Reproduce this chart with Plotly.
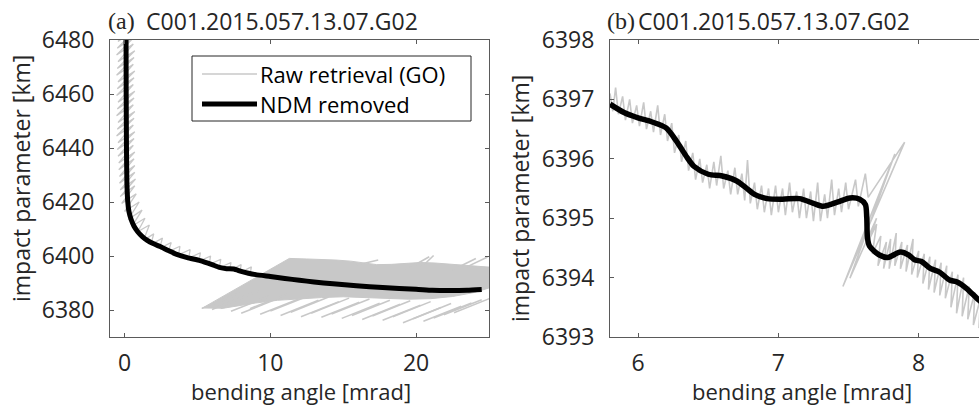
import plotly.graph_objects as go

W, H = 979, 407

# ---------------- data: panel (a) ----------------
ndm_a_x = [0.10, 0.11, 0.13, 0.16, 0.22, 0.30, 0.45, 0.65, 0.90, 1.20, 1.53, 2.00, 2.44, 3.00, 3.58,
           4.30, 5.18, 6.00, 6.50, 7.00, 7.50, 8.00, 8.50, 9.00, 10.0, 11.0, 12.0, 13.0, 14.3, 15.9,
           17.7, 20.0, 21.1, 22.3, 23.5, 24.5]
ndm_a_y = [6485, 6460, 6440, 6427, 6420, 6416.5, 6413.5, 6411, 6409, 6407.3, 6405.9, 6404.5, 6403.5, 6402, 6400.6,
           6399.4, 6398.3, 6396.8, 6395.8, 6395.3, 6395.2, 6394.3, 6393.6, 6393.1, 6392.4, 6391.7, 6391.0, 6390.4, 6389.7, 6389.0,
           6388.3, 6387.7, 6387.3, 6387.2, 6387.3, 6387.6]

raw_a_x = [-0.55, 0.60, -0.45, 0.70, -0.50, 0.65, -0.55, 0.60, -0.45, 0.70, -0.50, 0.65, -0.55, 0.60, -0.45,
           0.70, -0.50, 0.65, -0.55, 0.60, -0.45, 0.70, -0.50, 0.65, -0.55, 0.60, -0.45, 0.70, -0.50, 0.65,
           -0.55, 0.60, -0.45, 0.70, -0.50, 0.65, -0.45, 0.60, -0.40, 0.70, -0.40, 0.65, -0.35, 0.70, -0.35,
           0.70, -0.30, 0.75, -0.30, 0.70,
           -0.20, 0.80, 0.00, 1.00, 0.25, 1.20, 0.50, 1.40, 0.90, 1.70,
           1.30, 2.00, 1.80, 2.60, 2.40, 3.20, 3.00, 3.80, 3.70, 4.50, 4.40, 5.20, 5.10, 5.90, 5.80, 6.60,
           6.50, 7.30, 7.20, 8.00, 7.90, 8.70, 8.60]
raw_a_y = [6482, 6486, 6479.5, 6483.5, 6477, 6481, 6474.5, 6478.5, 6472, 6476, 6469.5, 6473.5, 6467, 6471, 6464.5,
           6468.5, 6462, 6466, 6459.5, 6463.5, 6457, 6461, 6454.5, 6458.5, 6452, 6456, 6449.5, 6453.5, 6447, 6451,
           6444.5, 6448.5, 6442, 6446, 6439.5, 6443.5, 6437, 6441, 6434.5, 6438.5, 6432, 6436, 6429.5, 6433.5, 6427,
           6431, 6424.5, 6428.5, 6422, 6426,
           6419.5, 6423, 6416.5, 6420, 6413.5, 6417, 6411, 6414, 6409, 6411.5,
           6405.8, 6408.2, 6404.2, 6406.6, 6402.8, 6405.0, 6401.6, 6403.6, 6400.4, 6402.4, 6399.2, 6401.2, 6398.0, 6400.0, 6396.8, 6398.8,
           6395.6, 6397.6, 6394.6, 6396.8, 6393.8, 6396.0, 6393.0]

# dense multipath band (outline of the solid grey region)
band_x = [5.3, 8.0, 10.0, 11.3, 12.5, 13.5, 14.5, 15.5, 16.5, 17.3, 18.3, 19.3, 20.3, 21.3, 22.3, 23.3, 24.3, 25.2,
          25.2, 24.0, 22.5, 21.0, 19.5, 18.0, 16.5, 15.0, 13.5, 12.0, 10.5, 9.0, 7.8, 6.6]
band_y = [6380.6, 6388.9, 6395.1, 6399.1, 6398.9, 6398.8, 6398.5, 6398.1, 6397.5, 6396.8, 6396.9, 6397.3, 6397.6, 6397.4, 6397.0, 6396.6, 6396.3, 6395.8,
          6388.5, 6386.5, 6385.0, 6384.2, 6384.0, 6384.3, 6384.6, 6384.9, 6384.6, 6384.2, 6383.6, 6382.6, 6381.6, 6380.5]

# individual multipath strokes (start -> end)
stroke_x0 = [5.3, 6.0, 6.6, 7.3, 8.0, 8.6, 9.3, 10.0, 10.7, 11.4, 12.1, 12.8, 13.5, 14.2, 14.9, 15.6, 16.3, 17.0,
             17.7, 18.4, 19.1, 19.8, 20.5, 21.2, 21.9, 22.6, 19.3, 20.2, 22.5, 23.3, 15.8]
stroke_y0 = [6380.6, 6380.2, 6381.5, 6379.5, 6378.8, 6380.5, 6378.4, 6379.6, 6378.0, 6379.2, 6377.5, 6378.8, 6377.3, 6378.5, 6376.9, 6378.0, 6376.5, 6377.8,
             6376.2, 6377.5, 6375.3, 6376.8, 6375.8, 6377.0, 6378.2, 6379.0, 6394.8, 6395.0, 6394.8, 6395.5, 6396.5]
stroke_x1 = [7.9, 8.6, 9.2, 9.9, 10.6, 11.2, 11.9, 12.6, 13.3, 14.0, 14.7, 15.4, 16.1, 16.8, 17.5, 18.2, 18.9, 19.6,
             20.3, 21.0, 21.7, 22.4, 23.1, 23.8, 24.5, 25.2, 20.9, 21.2, 24.1, 24.9, 17.4]
stroke_y1 = [6386.2, 6385.8, 6387.1, 6385.1, 6384.4, 6386.1, 6384.0, 6385.2, 6383.6, 6384.8, 6383.1, 6384.4, 6382.9, 6384.1, 6382.5, 6383.6, 6382.1, 6383.4,
             6381.8, 6383.1, 6380.9, 6382.4, 6381.4, 6382.6, 6383.8, 6384.6, 6399.7, 6400.2, 6399.1, 6399.6, 6398.5]

# ---------------- data: panel (b) ----------------
ndm_b_x = [5.80, 5.90, 6.00, 6.10, 6.20, 6.27, 6.35, 6.40, 6.50, 6.60, 6.70, 6.77, 6.83, 6.92, 7.03, 7.15, 7.25,
           7.32, 7.42, 7.51, 7.58, 7.62, 7.63, 7.635, 7.65, 7.72, 7.78, 7.87, 7.93, 7.97, 8.02, 8.08, 8.15,
           8.22, 8.27, 8.34, 8.43, 8.50]
ndm_b_y = [6396.92, 6396.78, 6396.69, 6396.62, 6396.52, 6396.31, 6396.02, 6395.87, 6395.74, 6395.71, 6395.63, 6395.51, 6395.40, 6395.33, 6395.32, 6395.33, 6395.25,
           6395.20, 6395.27, 6395.34, 6395.32, 6395.23, 6395.01, 6394.67, 6394.53, 6394.38, 6394.34, 6394.43, 6394.38, 6394.30, 6394.27, 6394.16, 6394.09,
           6393.96, 6393.93, 6393.82, 6393.62, 6393.50]

raw_b_x = [5.80, 5.82, 5.84, 5.86, 5.89, 5.91, 5.94, 5.96, 5.99, 6.01, 6.04, 6.06, 6.09, 6.11, 6.14, 6.16, 6.19, 6.21,
           6.24, 6.26, 6.29, 6.31, 6.34, 6.36, 6.39, 6.41, 6.44, 6.46, 6.49, 6.51, 6.54, 6.56, 6.59, 6.61, 6.64, 6.66,
           6.69, 6.71, 6.74, 6.76, 6.78, 6.80, 6.83, 6.85, 6.88, 6.90, 6.93, 6.95, 6.98, 7.00, 7.03, 7.05, 7.08, 7.10,
           7.13, 7.15, 7.18, 7.20, 7.23, 7.25, 7.28, 7.30, 7.33, 7.35, 7.38, 7.40, 7.43, 7.45, 7.48, 7.50, 7.55, 7.57,
           7.62, 7.64, 7.90, 7.46, 7.83, 7.51, 7.70, 7.64, 7.70, 7.67, 7.73, 7.71, 7.77, 7.75, 7.80, 7.79, 7.84, 7.83,
           7.88, 7.87, 7.92, 7.91, 7.96, 7.95, 8.00, 7.99, 8.04, 8.03, 8.08, 8.07, 8.12, 8.11, 8.16, 8.15, 8.20, 8.19,
           8.24, 8.23, 8.28, 8.27, 8.32, 8.31, 8.36, 8.35, 8.40, 8.39, 8.44, 8.43, 8.48, 8.47, 8.52]
raw_b_y = [6397.10, 6396.80, 6397.20, 6396.75, 6397.05, 6396.65, 6397.00, 6396.60, 6396.90, 6396.55, 6396.95, 6396.50, 6396.80, 6396.45, 6396.90, 6396.40, 6396.75, 6396.30,
           6396.60, 6396.10, 6396.40, 6395.95, 6396.30, 6395.80, 6396.10, 6395.65, 6396.00, 6395.60, 6395.90, 6395.50, 6395.95, 6395.55, 6396.05, 6395.50, 6395.80, 6395.40,
           6395.85, 6395.40, 6395.75, 6395.30, 6395.98, 6395.25, 6395.60, 6395.15, 6395.55, 6395.10, 6395.50, 6395.05, 6395.55, 6395.10, 6395.50, 6395.05, 6395.60, 6395.10,
           6395.45, 6395.00, 6395.50, 6395.00, 6395.45, 6394.95, 6395.60, 6394.95, 6395.40, 6395.00, 6395.65, 6395.05, 6395.50, 6395.10, 6395.60, 6395.15, 6395.65, 6395.20,
           6395.75, 6395.35, 6396.28, 6393.85, 6396.08, 6393.99, 6395.00, 6394.60, 6394.90, 6394.40, 6394.70, 6394.20, 6394.60, 6394.15, 6394.65, 6394.15, 6394.75, 6394.20,
           6394.60, 6394.15, 6394.55, 6394.10, 6394.65, 6394.05, 6394.45, 6394.00, 6394.40, 6393.90, 6394.35, 6393.80, 6394.30, 6393.75, 6394.25, 6393.70, 6394.20, 6393.65,
           6394.10, 6393.50, 6394.05, 6393.40, 6394.00, 6393.35, 6393.85, 6393.30, 6393.75, 6393.20, 6393.65, 6393.15, 6393.60, 6393.10, 6393.50]

xticks_a = [0, 10, 20]
yticks_a = [6380, 6400, 6420, 6440, 6460, 6480]
xticks_b = [6, 7, 8]
yticks_b = [6393, 6394, 6395, 6396, 6397, 6398]

title_tag_a, title_tag_b = "(a)", "(b)"
title_txt = "C001.2015.057.13.07.G02"
xlabel = "bending angle [mrad]"
ylabel = "impact parameter [km]"
legend_labels = ["Raw retrieval (GO)", "NDM removed"]

# ---------------- styling ----------------
GREY = "#c8c8c8"
INK = "#262626"
AXC = "#5a5a5a"
SANS = "Open Sans"
FS = 23


def px(x):
    return x / W


def py(y):
    return 1 - y / H


fig = go.Figure()

# panel (a)
fig.add_trace(go.Scatter(x=band_x, y=band_y, mode="lines", fill="toself", fillcolor=GREY,
                         line=dict(color=GREY, width=1), xaxis="x", yaxis="y", hoverinfo="skip"))
sx, sy = [], []
for a, b, c, d in zip(stroke_x0, stroke_y0, stroke_x1, stroke_y1):
    sx += [a, c, None]
    sy += [b, d, None]
fig.add_trace(go.Scatter(x=sx, y=sy, mode="lines", line=dict(color=GREY, width=1.6), xaxis="x", yaxis="y"))
fig.add_trace(go.Scatter(x=raw_a_x, y=raw_a_y, mode="lines", line=dict(color=GREY, width=1.3), xaxis="x", yaxis="y"))
fig.add_trace(go.Scatter(x=ndm_a_x, y=ndm_a_y, mode="lines", line=dict(color="black", width=5, shape="spline", smoothing=0.5),
                         xaxis="x", yaxis="y"))

# panel (b)
fig.add_trace(go.Scatter(x=raw_b_x, y=raw_b_y, mode="lines", line=dict(color=GREY, width=1.6), xaxis="x2", yaxis="y2"))
fig.add_trace(go.Scatter(x=ndm_b_x, y=ndm_b_y, mode="lines", line=dict(color="black", width=5.5, shape="spline", smoothing=0.8),
                         xaxis="x2", yaxis="y2"))

axis_common = dict(showgrid=False, zeroline=False, showline=True, linecolor=AXC, linewidth=1,
                   ticks="inside", ticklen=4, tickcolor=AXC, tickwidth=1, automargin=False,
                   tickfont=dict(family=SANS, size=FS, color=INK))

fig.update_layout(
    width=W, height=H, margin=dict(l=0, r=0, t=0, b=0, pad=0), autosize=False,
    paper_bgcolor="white", plot_bgcolor="white", showlegend=False,
    xaxis=dict(domain=[px(110), px(489)], range=[-1, 25], tickvals=xticks_a, anchor="y", mirror="ticks",
               ticklabelstandoff=5, **axis_common),
    yaxis=dict(domain=[py(337), py(40)], range=[6370, 6480], tickvals=yticks_a, anchor="x", mirror="ticks",
               ticklabelstandoff=10, **axis_common),
    xaxis2=dict(domain=[px(610), 1.0], range=[5.8, 8.43], tickvals=xticks_b, anchor="y2", mirror="ticks",
                ticklabelstandoff=5, **axis_common),
    yaxis2=dict(domain=[py(337), py(40)], range=[6393, 6398], tickvals=yticks_b, anchor="x2", mirror=False,
                ticklabelstandoff=10, **axis_common),
)

ann = []
for tag, x_tag, x_txt in [(title_tag_a, 106, 144), (title_tag_b, 605, 636)]:
    ann.append(dict(x=px(x_tag), y=py(21), xref="paper", yref="paper", text=tag, showarrow=False,
                    xanchor="left", yanchor="middle", font=dict(family="Liberation Serif", size=24, color=INK)))
    ann.append(dict(x=px(x_txt), y=py(21), xref="paper", yref="paper", text=title_txt, showarrow=False,
                    xanchor="left", yanchor="middle", font=dict(family=SANS, size=FS, color=INK)))
for xc in (301, 802):
    ann.append(dict(x=px(xc), y=py(391), xref="paper", yref="paper", text=xlabel, showarrow=False,
                    xanchor="center", yanchor="middle", font=dict(family=SANS, size=22, color=INK)))
for xc, yc in ((21, 179), (520, 199)):
    ann.append(dict(x=px(xc), y=py(yc), xref="paper", yref="paper", text=ylabel, showarrow=False, textangle=-90,
                    xanchor="center", yanchor="middle", font=dict(family=SANS, size=FS, color=INK)))
# legend
for label, yc in zip(legend_labels, (74, 104)):
    ann.append(dict(x=px(258), y=py(yc), xref="paper", yref="paper", text=label, showarrow=False,
                    xanchor="left", yanchor="middle", font=dict(family=SANS, size=22, color="black")))
fig.update_layout(annotations=ann)

shapes = [
    dict(type="rect", xref="paper", yref="paper", x0=px(192), x1=px(471), y0=py(121), y1=py(56),
         line=dict(color=INK, width=1), fillcolor="white", layer="above"),
    dict(type="line", xref="paper", yref="paper", x0=px(202), x1=px(257), y0=py(74), y1=py(74),
         line=dict(color=GREY, width=1.6), layer="above"),
    dict(type="line", xref="paper", yref="paper", x0=px(202), x1=px(257), y0=py(104), y1=py(104),
         line=dict(color="black", width=5), layer="above"),
]
fig.update_layout(shapes=shapes)

fig.write_html("out.html", config={"displayModeBar": False, "staticPlot": True},
               post_script="document.body.style.margin='0';document.body.style.overflow='hidden';")
